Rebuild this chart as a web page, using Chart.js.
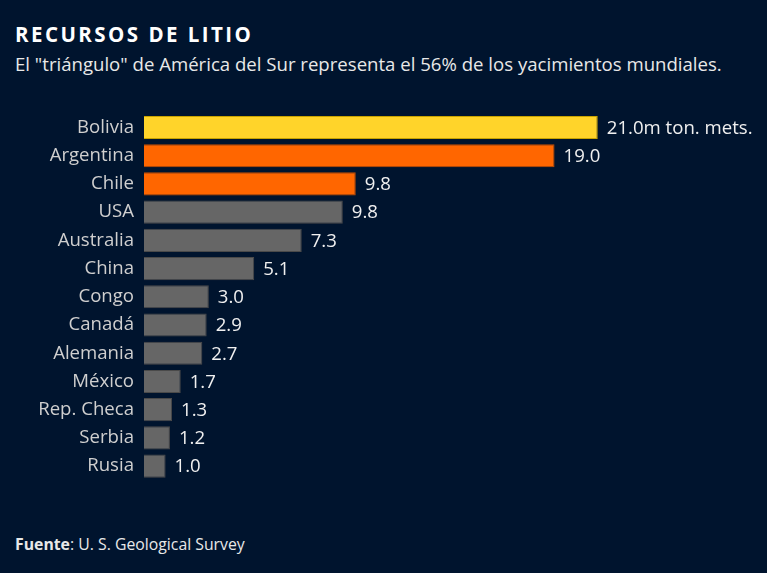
<!DOCTYPE html>
<html><head><meta charset="utf-8">
<script src="https://cdn.jsdelivr.net/npm/chart.js@4"></script>
<style>
html,body{margin:0;padding:0;background:#00142e;width:767px;height:573px;overflow:hidden;font-family:"Open Sans",sans-serif;}
#title{position:absolute;left:15px;top:20px;color:#fff;font-weight:700;font-size:20.5px;letter-spacing:2.45px;}
#sub{position:absolute;left:15px;top:51px;color:#e8e8e8;font-size:18.6px;}
#foot{position:absolute;left:15px;top:533px;color:#e8e8e8;font-size:15.8px;}
#wrap{position:absolute;left:0;top:100px;width:767px;height:394px;}
</style></head><body>
<div id="title">RECURSOS DE LITIO</div>
<div id="sub">El "triángulo" de América del Sur representa el 56% de los yacimientos mundiales.</div>
<div id="foot"><b>Fuente</b>: U. S. Geological Survey</div>
<div id="wrap"><canvas id="c"></canvas></div>
<script>
const categories=["Bolivia","Argentina","Chile","USA","Australia","China","Congo","Canadá","Alemania","México","Rep. Checa","Serbia","Rusia"];
const values=[21.0,19.0,9.8,9.2,7.3,5.1,3.0,2.9,2.7,1.7,1.3,1.2,1.0];
const valueLabels=["21.0m ton. mets.","19.0","9.8","9.8","7.3","5.1","3.0","2.9","2.7","1.7","1.3","1.2","1.0"];
const barColors=["#ffd42a","#ff6600","#ff6600","#666666","#666666","#666666","#666666","#666666","#666666","#666666","#666666","#666666","#666666"];
const borderColors=["#c9a400","#c24d00","#c24d00","#4a4a4a","#4a4a4a","#4a4a4a","#4a4a4a","#4a4a4a","#4a4a4a","#4a4a4a","#4a4a4a","#4a4a4a","#4a4a4a"];

const valuePlugin={id:'vals',afterDatasetsDraw(chart){
  const ctx=chart.ctx;const meta=chart.getDatasetMeta(0);
  ctx.save();ctx.font='18.6px "Open Sans"';ctx.fillStyle='#f0f0f0';ctx.textBaseline='middle';ctx.textAlign='left';
  meta.data.forEach((b,i)=>{ctx.fillText(valueLabels[i],b.x+9,b.y+1);});
  ctx.restore();}};

new Chart(document.getElementById('c'),{
  type:'bar',
  data:{labels:categories,datasets:[{data:values,backgroundColor:barColors,borderColor:borderColors,borderWidth:1,categoryPercentage:1,barPercentage:0.82}]},
  options:{indexAxis:'y',responsive:true,maintainAspectRatio:false,animation:false,
    layout:{padding:{top:13.4,bottom:13.8,right:18,left:0}},
    plugins:{legend:{display:false},tooltip:{enabled:false}},
    scales:{
      x:{min:0,max:28,display:false},
      y:{grid:{display:false,drawTicks:false},border:{display:false},
         ticks:{color:'#cfcfcf',font:{family:'"Open Sans"',size:18.6},padding:10},
         afterFit(s){s.width=144;s.paddingTop=0;s.paddingBottom=0;}}
    }},
  plugins:[valuePlugin]
});
</script>
</body></html>
